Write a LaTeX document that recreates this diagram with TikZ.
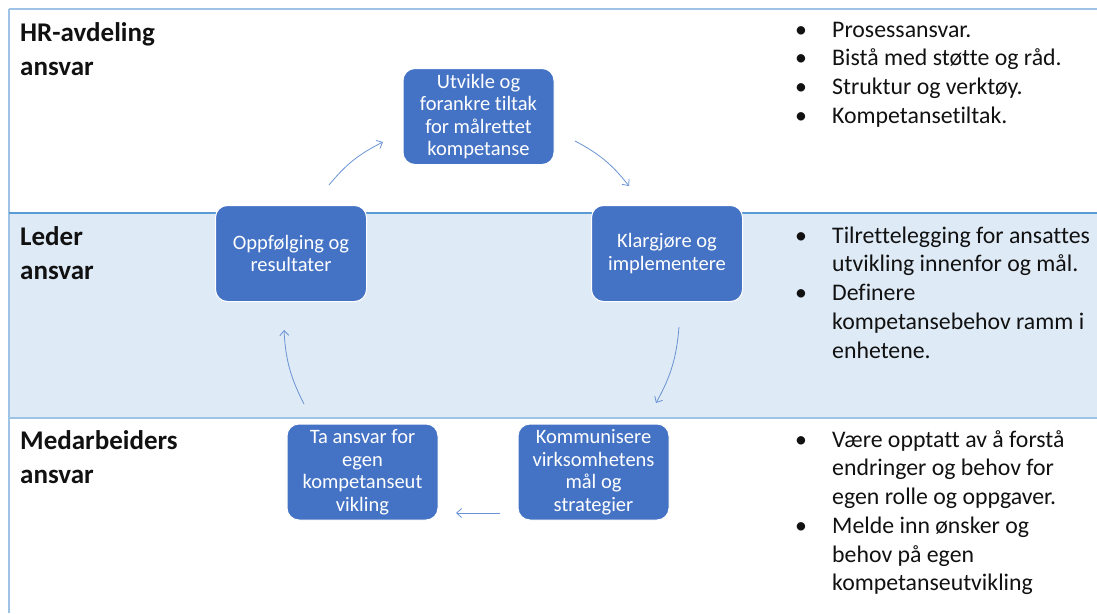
\documentclass[tikz,border=0pt]{standalone}
\usepackage{fontspec}
\setmainfont{Carlito}[Ligatures=NoCommon]
\usetikzlibrary{arrows.meta}
\definecolor{boxblue}{HTML}{4472C4}
\definecolor{band}{HTML}{DEEAF6}
\definecolor{lineA}{HTML}{9DC3E6}
\definecolor{lineB}{HTML}{5B9BD5}
\definecolor{arr}{HTML}{6A93D4}
\definecolor{txt}{HTML}{111111}
\begin{document}
\begin{tikzpicture}[x=1pt,y=-1pt,
 stepbox/.style={draw=white, line width=1pt, fill=boxblue, rounded corners=12pt,
   minimum width=151pt, minimum height=96pt, text=white, align=center, inner sep=1pt,
   font=\fontsize{20.5}{22.5}\selectfont},
 cyc/.style={draw=arr, line width=0.8pt, -{Straight Barb[length=5pt,width=9pt]}},
 lane/.style={anchor=north west, inner sep=0pt, align=left, text=txt,
   font=\bfseries\fontsize{27}{34}\selectfont},
 bul/.style={anchor=north west, inner sep=0pt, align=left, text=txt,
   font=\fontsize{23.8}{28.7}\selectfont}]
\useasboundingbox (0,0) rectangle (1097,613);
\clip (0,0) rectangle (1097,613);
% bands and lines
\fill[band] (9,213) rectangle (1097,418);
\draw[lineA, line width=1.5pt] (9,9) -- (1097,9);
\draw[lineA, line width=2pt] (9,9) -- (9,613);
\draw[lineB, line width=2pt] (9,213) -- (1097,213);
\draw[lineA, line width=1.5pt] (9,418) -- (1097,418);
% lane labels
\node[lane] (hr) at (20,22) {\rule{0pt}{19pt}HR-avdeling\\ansvar};
\node[lane] (leder) at (20,226) {\rule{0pt}{19pt}Leder\\ansvar};
\node[lane] (med) at (20,430) {\rule{0pt}{19pt}Medarbeiders\\ansvar};
% bullets
\node[bul] (b1) at (795,20) {\rule{0pt}{17pt}\makebox[37pt][l]{•}Prosessansvar.\\
 \makebox[37pt][l]{•}Bistå med støtte og råd.\\
 \makebox[37pt][l]{•}Struktur og verktøy.\\
 \makebox[37pt][l]{•}Kompetansetiltak.};
\node[bul] (b2) at (795,226) {\rule{0pt}{17pt}\makebox[37pt][l]{•}Tilrettelegging for ansattes\\
 \hspace*{37pt}utvikling innenfor og mål.\\
 \makebox[37pt][l]{•}Definere\\
 \hspace*{37pt}kompetansebehov ramm i\\
 \hspace*{37pt}enhetene.};
\node[bul] (b3) at (795,430) {\rule{0pt}{17pt}\makebox[37pt][l]{•}Være opptatt av å forstå\\
 \hspace*{37pt}endringer og behov for\\
 \hspace*{37pt}egen rolle og oppgaver.\\
 \makebox[37pt][l]{•}Melde inn ønsker og\\
 \hspace*{37pt}behov på egen\\
 \hspace*{37pt}kompetanseutvikling};
% cycle boxes
\node[stepbox] (utv) at (478.5,116.5) {Utvikle og\\forankre tiltak\\for målrettet\\kompetanse};
\node[stepbox] (klar) at (667,253.5) {Klargjøre og\\implementere};
\node[stepbox] (kom) at (593.5,472) {Kommunisere\\virksomhetens\\mål og\\strategier};
\node[stepbox] (ta) at (362.5,472) {Ta ansvar for\\egen\\kompetanseut\\vikling};
\node[stepbox] (opp) at (291,253.5) {Oppfølging og\\resultater};
% arrow end points
\coordinate (a1s) at (329,185); \coordinate (a1e) at (383,142);
\coordinate (a2s) at (575,141); \coordinate (a2e) at (629,186);
\coordinate (a3s) at (679,327); \coordinate (a3e) at (656,403);
\coordinate (a4s) at (500,513); \coordinate (a4e) at (456,513);
\coordinate (a5s) at (304,404); \coordinate (a5e) at (284,330);
\draw[cyc] (a1s) to[bend left=12] (a1e);
\draw[cyc] (a2s) to[bend left=12] (a2e);
\draw[cyc] (a3s) to[bend left=12] (a3e);
\draw[cyc] (a4s) -- (a4e);
\draw[cyc] (a5s) to[bend left=12] (a5e);
\end{tikzpicture}
\end{document}
